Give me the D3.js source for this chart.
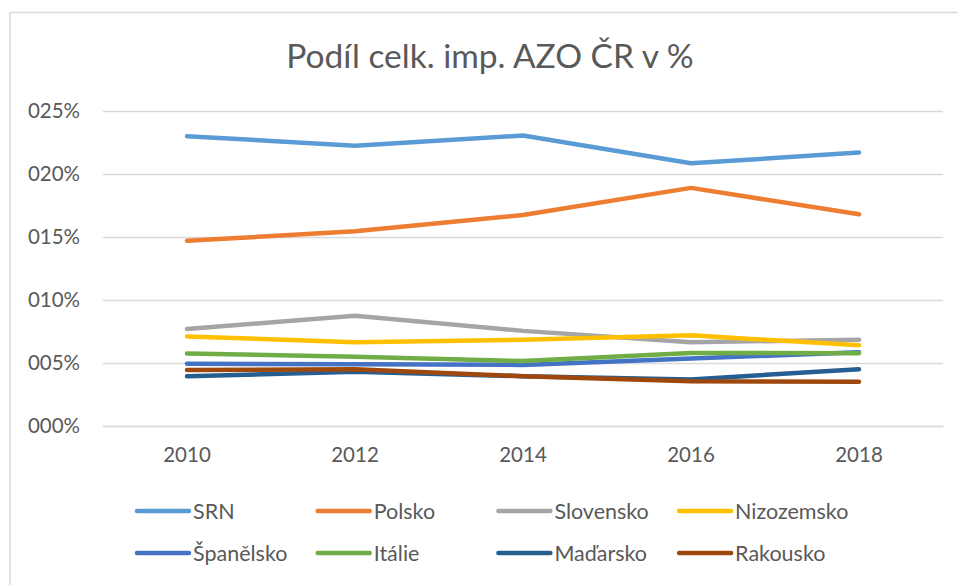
<!DOCTYPE html>
<html>
<head>
<meta charset="utf-8">
<script src="https://cdn.jsdelivr.net/npm/d3@7"></script>
<style>
  body { margin: 0; background: #fff; }
  svg { display: block; font-family: Lato, "Open Sans", sans-serif; }
</style>
</head>
<body>
<svg id="chart"></svg>
<script>
const svg_w = 958;
const svg_h = 585;

// plot area
const margin = {l:103, r:15, t:111, b:159};
const viz_w = svg_w - margin.l - margin.r;
const viz_h = svg_h - margin.t - margin.b;

// data
const years = ["2010", "2012", "2014", "2016", "2018"];
const countries = ["SRN", "Polsko", "Slovensko", "Nizozemsko", "Španělsko", "Itálie", "Maďarsko", "Rakousko"];
const colors = ["#5B9BD5", "#ED7D31", "#A5A5A5", "#FFC000", "#4472C4", "#70AD47", "#255E91", "#9E480E"];
const srn = [23.0, 22.25, 23.05, 20.85, 21.7];
const polsko = [14.7, 15.45, 16.75, 18.9, 16.8];
const slovensko = [7.7, 8.75, 7.55, 6.65, 6.85];
const nizozemsko = [7.1, 6.65, 6.85, 7.2, 6.4];
const spanelsko = [4.95, 4.9, 4.85, 5.35, 5.85];
const italie = [5.75, 5.5, 5.15, 5.8, 5.78];
const madarsko = [3.95, 4.3, 3.95, 3.7, 4.5];
const rakousko = [4.45, 4.5, 3.95, 3.55, 3.52];
const y_ticks = [0, 5, 10, 15, 20, 25];

const series = [srn, polsko, slovensko, nizozemsko, spanelsko, italie, madarsko, rakousko]
  .map((vals, i) => ({name: countries[i], color: colors[i], values: vals}));

const text_col = "#595959";
const grid_col = "#d9d9d9";

let svg = d3.select("#chart")
  .attr("width", svg_w)
  .attr("height", svg_h);

// chart border
svg.append("rect")
  .attr("x", 10).attr("y", 12.5)
  .attr("width", svg_w + 20).attr("height", svg_h + 20)
  .attr("fill", "none")
  .attr("stroke", grid_col)
  .attr("stroke-width", 1.5);

// title
svg.append("text")
  .attr("x", 490).attr("y", 68)
  .attr("text-anchor", "middle")
  .attr("font-size", 33.5)
  .attr("fill", text_col)
  .text("Podíl celk. imp. AZO ČR v %");

let x_scale = d3.scaleBand()
  .domain(years)
  .range([0, viz_w]);

let y_scale = d3.scaleLinear()
  .domain([0, 25])
  .range([viz_h, 0]);

let g = svg.append("g")
  .attr("transform", `translate(${margin.l},${margin.t})`);

// gridlines + y labels
let y_axis = g.append("g")
  .call(d3.axisLeft(y_scale)
    .tickValues(y_ticks)
    .tickSize(-viz_w)
    .tickPadding(23)
    .tickFormat(d => d3.format("03d")(d) + "%"));
y_axis.select(".domain").remove();
y_axis.selectAll(".tick line")
  .attr("stroke", grid_col)
  .attr("stroke-width", 1.5);
y_axis.selectAll(".tick text")
  .attr("font-size", 20.5)
  .attr("font-family", "Lato, sans-serif")
  .attr("fill", text_col);

// x labels
let x_axis = g.append("g")
  .attr("transform", `translate(0,${viz_h})`)
  .call(d3.axisBottom(x_scale).tickSize(0).tickPadding(21));
x_axis.select(".domain")
  .attr("stroke", grid_col)
  .attr("stroke-width", 1.5);
x_axis.selectAll(".tick text")
  .attr("font-size", 20.5)
  .attr("font-family", "Lato, sans-serif")
  .attr("fill", text_col);

// lines
let line = d3.line()
  .x((d, i) => x_scale(years[i]) + x_scale.bandwidth() / 2)
  .y(d => y_scale(d));

g.selectAll("path.series")
  .data(series)
  .enter()
  .append("path")
  .attr("class", "series")
  .attr("d", d => line(d.values))
  .attr("fill", "none")
  .attr("stroke", d => d.color)
  .attr("stroke-width", 4.5)
  .attr("stroke-linecap", "round")
  .attr("stroke-linejoin", "round");

// legend
let legend = svg.append("g")
  .selectAll("g")
  .data(series)
  .enter()
  .append("g")
  .attr("transform", (d, i) => `translate(${137 + (i % 4) * 180.7},${511 + Math.floor(i / 4) * 42})`);

legend.append("line")
  .attr("x1", 0).attr("x2", 52)
  .attr("stroke", d => d.color)
  .attr("stroke-width", 4.5)
  .attr("stroke-linecap", "round");

legend.append("text")
  .attr("x", 56)
  .attr("dy", "0.35em")
  .attr("font-size", 21.5)
  .attr("fill", text_col)
  .text(d => d.name);
</script>
</body>
</html>
